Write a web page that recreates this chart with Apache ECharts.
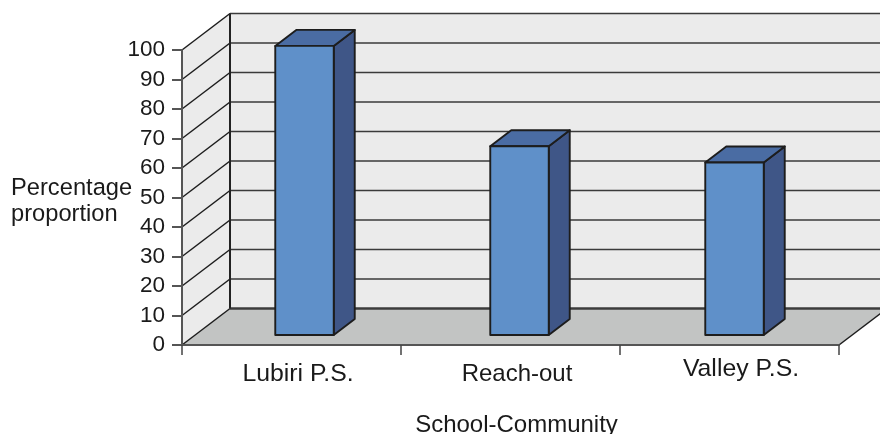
<!DOCTYPE html>
<html>
<head>
<meta charset="utf-8">
<style>html,body{margin:0;padding:0;background:#fff}#c{width:880px;height:434px}</style>
<script src="https://cdn.jsdelivr.net/npm/echarts@6/dist/echarts.min.js"></script>
</head>
<body>
<div id="c"></div>
<script>
const categories = ['Lubiri P.S.', 'Reach-out', 'Valley P.S.'];
const proportions = [98, 64, 58.5];
const gridLevels = [0, 10, 20, 30, 40, 50, 60, 70, 80, 90, 100];
const yAxisTitle = 'Percentage\nproportion';
const xAxisTitle = 'School-Community';

const FONT = '"Liberation Sans", Arial, sans-serif';
const WALL_DX = 48, WALL_DY = -36.5;
const BAR_DX = 13, BAR_DY = -10, BAR_DEPTH_X = 21, BAR_DEPTH_Y = -16;
const BAR_RATIO = 0.267;
const BAR_NUDGE = [0, -4, -8];
const LINE = '#1d1d1d';
const TEXT = '#1a1a1a';

function poly(points, fill, stroke, lw) {
  return { type: 'polygon', shape: { points }, style: { fill, stroke: stroke || 'none', lineWidth: lw || 0, lineJoin: 'round' } };
}
function polyline(points, stroke, lw) {
  return { type: 'polyline', shape: { points }, style: { fill: 'none', stroke, lineWidth: lw } };
}

function renderRoom(params, api) {
  const band = api.size([1, 0])[0];
  const leftX = api.coord([0, 0])[0] - band / 2;
  const rightX = leftX + band * categories.length;
  const yAt = v => api.coord([0, v])[1];
  const y0 = yAt(0), yTop = yAt(gridLevels[gridLevels.length - 1]);
  const farX = rightX + WALL_DX;
  const kids = [];
  kids.push(poly([[leftX + WALL_DX, yTop + WALL_DY], [farX, yTop + WALL_DY], [farX, y0 + WALL_DY], [leftX + WALL_DX, y0 + WALL_DY]], '#ebebeb'));
  kids.push(poly([[leftX, y0], [leftX, yTop], [leftX + WALL_DX, yTop + WALL_DY], [leftX + WALL_DX, y0 + WALL_DY]], '#ebebeb'));
  kids.push(poly([[leftX, y0], [leftX + WALL_DX, y0 + WALL_DY], [farX, y0 + WALL_DY], [rightX, y0]], '#c2c4c3'));
  gridLevels.forEach(v => {
    const y = yAt(v);
    if (v > 0) {
      kids.push(polyline([[leftX, y], [leftX + WALL_DX, y + WALL_DY]], LINE, 1.5));
      kids.push(polyline([[leftX + WALL_DX, y + WALL_DY], [farX, y + WALL_DY]], '#3a3a3a', 1.6));
    }
  });
  kids.push(polyline([[leftX, y0], [leftX + WALL_DX, y0 + WALL_DY]], LINE, 1.5));
  kids.push(polyline([[leftX + WALL_DX, y0 + WALL_DY], [farX, y0 + WALL_DY]], '#3c3c3c', 2.4));
  kids.push(polyline([[rightX, y0], [farX, y0 + WALL_DY]], LINE, 1.5));
  kids.push(polyline([[leftX + WALL_DX, yTop + WALL_DY], [leftX + WALL_DX, y0 + WALL_DY]], '#222', 2));
  return { type: 'group', children: kids };
}

function renderBar(params, api) {
  const idx = api.value(0);
  const top = api.coord([idx, api.value(1)]);
  const base = api.coord([idx, 0]);
  const w = api.size([1, 0])[0] * BAR_RATIO;
  const x0 = top[0] + BAR_DX + BAR_NUDGE[idx] - w / 2, x1 = x0 + w;
  const yT = top[1] + BAR_DY, yB = base[1] + BAR_DY;
  const dx = BAR_DEPTH_X, dy = BAR_DEPTH_Y;
  return {
    type: 'group',
    children: [
      poly([[x1, yT], [x1 + dx, yT + dy], [x1 + dx, yB + dy], [x1, yB]], '#3f5687', LINE, 1.9),
      poly([[x0, yT], [x0 + dx, yT + dy], [x1 + dx, yT + dy], [x1, yT]], '#4a6ca3', LINE, 1.9),
      poly([[x0, yT], [x1, yT], [x1, yB], [x0, yB]], '#5f90c9', LINE, 1.9)
    ]
  };
}

const chart = echarts.init(document.getElementById('c'), null, { renderer: 'canvas' });
const labelTweaks = [
  { fontSize: 24.8, padding: [5, 0, 0, 13] },
  { fontSize: 24, padding: [5, 0, 0, 13] },
  { fontSize: 24.8, padding: [0, 0, 0, 23] }
];
chart.setOption({
  animation: false,
  backgroundColor: '#fff',
  title: {
    text: yAxisTitle,
    left: 11,
    top: 175,
    padding: 0,
    textStyle: { fontFamily: FONT, fontSize: 23.7, fontWeight: 'normal', color: TEXT, lineHeight: 26 }
  },
  grid: { left: 182, right: 41, top: 50, bottom: 89, outerBoundsMode: 'none', containLabel: false },
  xAxis: {
    type: 'category',
    data: categories.map((c, i) => ({ value: c, textStyle: labelTweaks[i] })),
    z: 10,
    name: xAxisTitle,
    nameLocation: 'middle',
    nameGap: 68,
    nameMoveOverlap: false,
    nameTextStyle: { fontFamily: FONT, fontSize: 24, color: TEXT, padding: [0, 0, 0, 12] },
    axisLine: { show: true, lineStyle: { color: '#555', width: 2 } },
    axisTick: { show: true, length: 10, alignWithLabel: false, lineStyle: { color: '#444', width: 1.5 } },
    axisLabel: { fontFamily: FONT, fontSize: 24, color: TEXT, margin: 12, interval: 0 },
    splitLine: { show: false }
  },
  yAxis: {
    type: 'value',
    min: 0,
    max: 100,
    interval: 10,
    z: 10,
    axisLine: { show: true, lineStyle: { color: '#555', width: 2 } },
    axisTick: { show: true, length: 10, lineStyle: { color: '#555', width: 2 } },
    axisLabel: { fontFamily: FONT, fontSize: 22.5, color: TEXT, margin: 17 },
    splitLine: { show: false }
  },
  series: [
    { type: 'custom', silent: true, clip: false, z: 1, renderItem: renderRoom, data: [[0, 0]], encode: { x: 0, y: 1 } },
    { type: 'custom', clip: false, z: 2, renderItem: renderBar, data: proportions.map((v, i) => [i, v]), encode: { x: 0, y: 1 } }
  ]
});
</script>
</body>
</html>
